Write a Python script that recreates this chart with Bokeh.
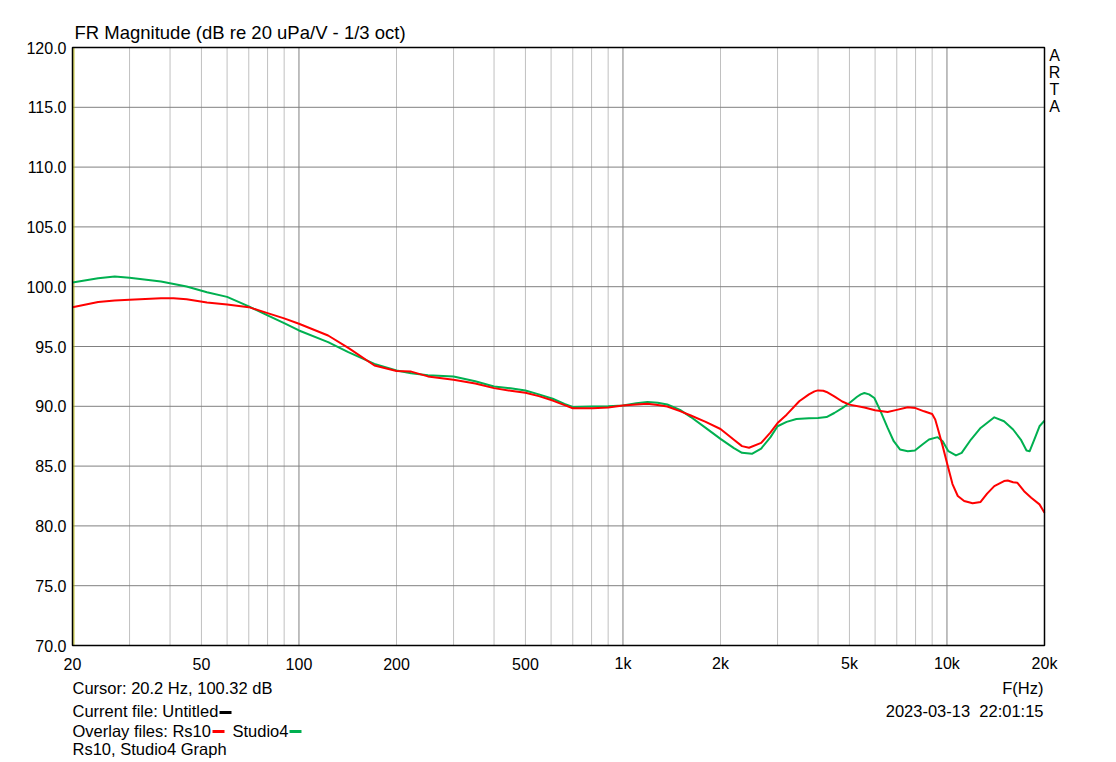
import math
from bokeh.plotting import figure
from bokeh.models import Range1d, LogScale, LinearScale
from bokeh.core.properties import value
from bokeh.embed import file_html
from bokeh.resources import INLINE

# ---------------- data ----------------
f_rs10 = [20, 24, 27, 30, 37.5, 41, 45, 52, 60, 70, 80, 90, 100, 123, 142, 171, 200, 222,
          250, 300, 350, 400, 450, 500, 550, 607, 660, 700, 806, 900, 1000, 1100, 1190,
          1280, 1370, 1500, 1620, 1800, 2000, 2200, 2330, 2450, 2670, 2850, 3000, 3200,
          3500, 3750, 3900, 4000, 4150, 4250, 4490, 4750, 5000, 5560, 6000, 6560, 7000,
          7570, 8000, 8500, 9000, 9200, 9360, 9700, 10030, 10400, 10800, 11300, 12000,
          12700, 13300, 14000, 15000, 15400, 16000, 16500, 17300, 18200, 19300, 20000]
db_rs10 = [98.29, 98.72, 98.85, 98.9, 99.04, 99.04, 98.96, 98.68, 98.51, 98.29, 97.79,
           97.35, 96.9, 95.92, 94.89, 93.41, 92.95, 92.9, 92.5, 92.22, 91.9, 91.52, 91.3,
           91.13, 90.85, 90.48, 90.1, 89.84, 89.84, 89.9, 90.07, 90.15, 90.21, 90.1, 89.98,
           89.6, 89.23, 88.7, 88.1, 87.2, 86.67, 86.53, 86.94, 87.8, 88.6, 89.3, 90.42,
           91.0, 91.25, 91.33, 91.3, 91.2, 90.83, 90.4, 90.14, 89.9, 89.67, 89.53, 89.7,
           89.92, 89.85, 89.58, 89.36, 88.9, 88.19, 86.67, 85.14, 83.5, 82.5, 82.08,
           81.89, 82.0, 82.7, 83.33, 83.75, 83.8, 83.65, 83.6, 82.9, 82.36, 81.8, 81.1]

f_studio4 = [20, 24, 27, 30, 37.5, 45, 52, 60, 70, 80, 90, 100, 123, 142, 171, 200, 222,
             250, 300, 350, 400, 450, 500, 550, 607, 660, 700, 806, 900, 1000, 1100, 1190,
             1280, 1370, 1500, 1620, 1800, 2000, 2200, 2330, 2500, 2670, 2850, 3000, 3200,
             3430, 3750, 4000, 4250, 4490, 4750, 5000, 5280, 5420, 5560, 5750, 5970, 6240,
             6560, 6850, 7160, 7570, 7960, 8400, 8800, 9360, 9700, 10100, 10660, 11100,
             11860, 12700, 14000, 15000, 16000, 16900, 17600, 18000, 18600, 19300, 20000]
db_studio4 = [100.35, 100.7, 100.85, 100.75, 100.43, 100.02, 99.54, 99.15, 98.35, 97.6,
              96.95, 96.34, 95.36, 94.53, 93.55, 93.0, 92.77, 92.6, 92.5, 92.1, 91.66,
              91.5, 91.32, 91.0, 90.63, 90.2, 89.95, 89.98, 90.0, 90.07, 90.25, 90.35,
              90.3, 90.15, 89.7, 89.1, 88.2, 87.28, 86.5, 86.11, 86.03, 86.47, 87.4,
              88.33, 88.7, 88.94, 89.0, 89.03, 89.1, 89.44, 89.85, 90.28, 90.8, 91.0,
              91.11, 91.0, 90.69, 89.58, 88.19, 87.08, 86.39, 86.25, 86.3, 86.8, 87.22,
              87.42, 87.08, 86.25, 85.89, 86.1, 87.22, 88.19, 89.08, 88.75, 88.06, 87.22,
              86.3, 86.25, 87.22, 88.33, 88.8]

x_ticks = [20, 50, 100, 200, 500, 1000, 2000, 5000, 10000, 20000]
x_tick_labels = ["20", "50", "100", "200", "500", "1k", "2k", "5k", "10k", "20k"]
x_minor = [30, 40, 50, 60, 70, 80, 90, 200, 300, 400, 500, 600, 700, 800, 900,
           2000, 3000, 4000, 5000, 6000, 7000, 8000, 9000]
x_major = [100, 1000, 10000]
y_ticks = [70, 75, 80, 85, 90, 95, 100, 105, 110, 115, 120]
y_tick_labels = ["%.1f" % t for t in y_ticks]
F_MIN, F_MAX, DB_MIN, DB_MAX = 20, 20000, 70, 120
cursor_freq = 20.2

# ---------------- layout ----------------
W, H = 1116, 762
PL, PR, PT, PB = 72, 1044, 47, 645          # plot box in page pixels
FONT = "Liberation Sans"
FS = "16.5px"

px_per_dec = (PR - PL) / math.log10(F_MAX / F_MIN)
f_lo = F_MIN * 10 ** (-PL / px_per_dec)
f_hi = F_MAX * 10 ** ((W - PR) / px_per_dec)
db_per_px = (DB_MAX - DB_MIN) / (PB - PT)
db_lo = DB_MIN - (H - PB) * db_per_px
db_hi = DB_MAX + PT * db_per_px

p = figure(width=W, height=H, output_backend="svg", toolbar_location=None,
           x_range=Range1d(0, W), y_range=Range1d(H, 0),
           x_axis_location=None, y_axis_location=None,
           min_border=0, min_border_left=0, min_border_right=0,
           min_border_top=0, min_border_bottom=0)
p.outline_line_color = None
p.background_fill_color = "white"
p.border_fill_color = "white"
p.grid.visible = False
p.extra_x_ranges = {"f": Range1d(f_lo, f_hi)}
p.extra_x_scales = {"f": LogScale()}
p.extra_y_ranges = {"db": Range1d(db_lo, db_hi)}
p.extra_y_scales = {"db": LinearScale()}
D = dict(x_range_name="f", y_range_name="db")

# grid
p.segment(x0=x_minor, x1=x_minor, y0=[DB_MIN] * len(x_minor), y1=[DB_MAX] * len(x_minor),
          line_color="#c0c0c0", line_width=1, **D)
p.segment(x0=x_major, x1=x_major, y0=[DB_MIN] * len(x_major), y1=[DB_MAX] * len(x_major),
          line_color="#808080", line_width=1, **D)
p.segment(x0=[F_MIN] * len(y_ticks), x1=[F_MAX] * len(y_ticks), y0=y_ticks, y1=y_ticks,
          line_color="#808080", line_width=1, **D)

# cursor
p.segment(x0=[cursor_freq], x1=[cursor_freq], y0=[DB_MIN], y1=[DB_MAX],
          line_color="#b4b400", line_width=1, **D)

# curves
p.line(f_studio4, db_studio4, line_color="#00b050", line_width=2, line_join="round", **D)
p.line(f_rs10, db_rs10, line_color="#ff0000", line_width=2, line_join="round", **D)

# plot box
p.quad(left=[F_MIN], right=[F_MAX], bottom=[DB_MIN], top=[DB_MAX], fill_color=None,
       line_color="black", line_width=1.5, **D)

# tick labels
p.text(x=x_ticks, y=[DB_MIN] * len(x_ticks), text=x_tick_labels, y_offset=18,
       text_align="center", text_baseline="middle", text_font=value(FONT),
       text_font_size="16px", text_color="black", **D)
p.text(x=[F_MIN] * len(y_ticks), y=y_ticks, text=y_tick_labels, x_offset=-6,
       text_align="right", text_baseline="middle", text_font=value(FONT),
       text_font_size="16px", text_color="black", **D)

# page texts
def txt(s, x, y, align="left", size=FS):
    p.text(x=[x], y=[y], text=[s], text_align=align, text_baseline="middle",
           text_font=value(FONT), text_font_size=size, text_color="black")

txt("FR Magnitude (dB re 20 uPa/V - 1/3 oct)", 74, 32, size="18.5px")
txt("Cursor: 20.2 Hz, 100.32 dB", 72, 687)
txt("Current file: Untitled", 72, 710)
txt("Overlay files: Rs10", 72, 730)
txt("Studio4", 232, 730)
txt("Rs10, Studio4 Graph", 72, 748.5)
txt("F(Hz)", 1043, 687, align="right")
txt("2023-03-13\u00a0\u00a022:01:15", 1043, 710, align="right")
for ch, cy in zip("ARTA", [55, 72, 89, 106]):
    txt(ch, 1054, cy, align="center", size="16px")

# legend marks
p.segment(x0=[219, 212, 289], x1=[231, 224, 301], y0=[712, 731, 731], y1=[712, 731, 731],
          line_color=["black", "#ff0000", "#00b050"], line_width=3)

open("out.html", "w").write(file_html(p, INLINE))
